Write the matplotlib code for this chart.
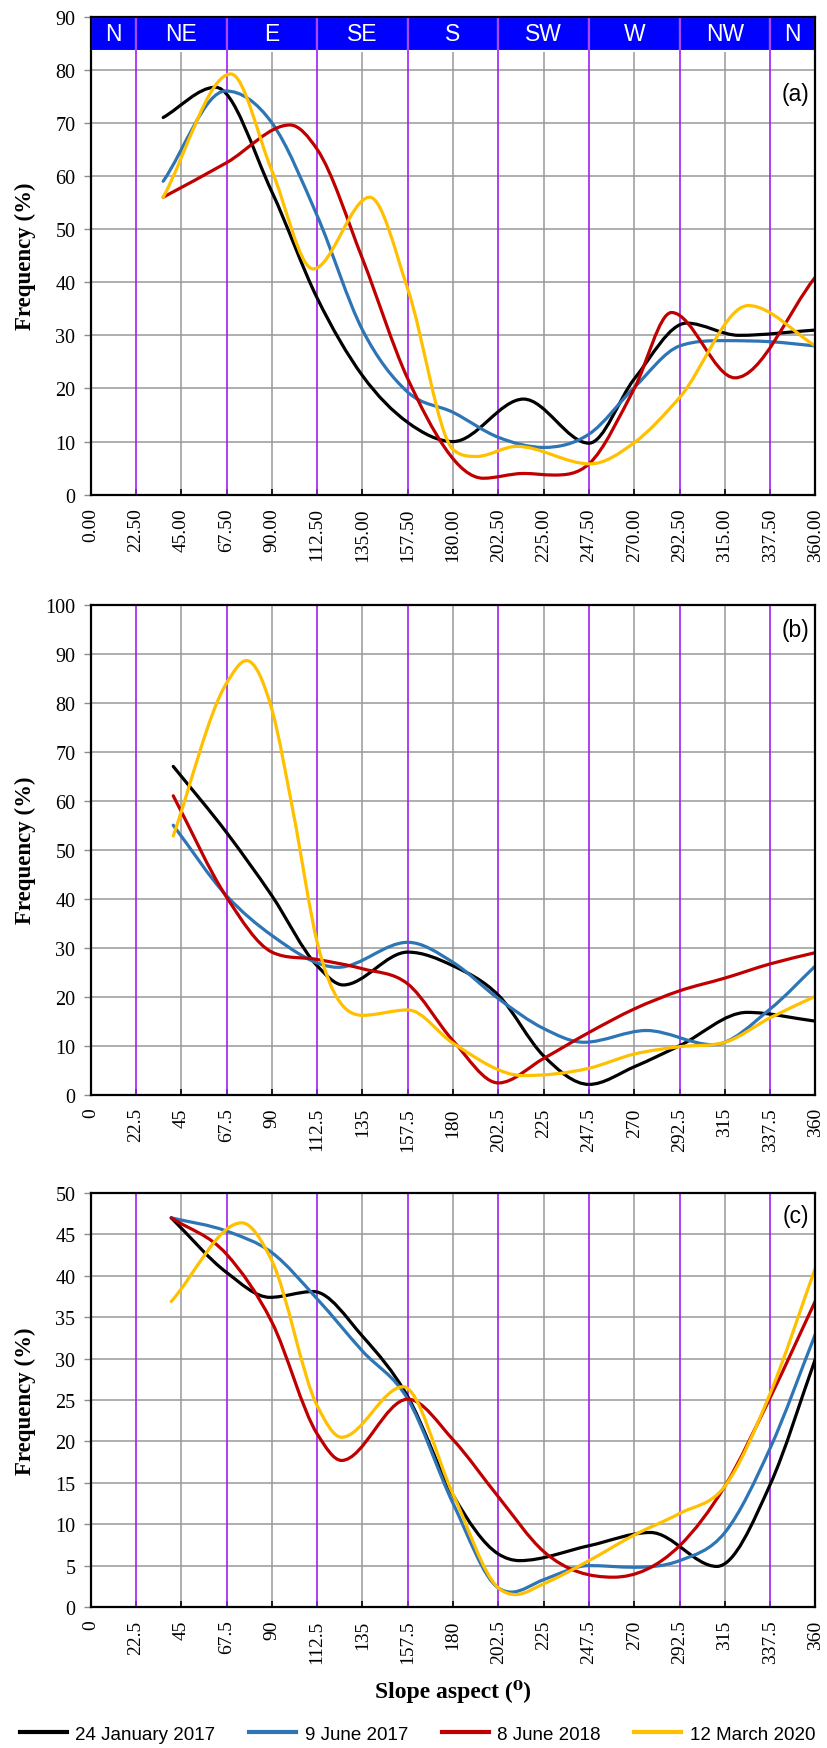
import matplotlib
matplotlib.use("Agg")
import matplotlib.pyplot as plt
from matplotlib.path import Path
from matplotlib.patches import PathPatch, Rectangle
from matplotlib.lines import Line2D

plt.rcParams['font.family'] = ['Liberation Serif', 'DejaVu Serif']

# ---- data (slope aspect in degrees, frequency in %) ----
labels = ["24 January 2017", "9 June 2017", "8 June 2018", "12 March 2020"]
colors = ["#000000", "#2E75B6", "#C00000", "#FFC000"]

sectors = ["N", "NE", "E", "SE", "S", "SW", "W", "NW", "N"]
sector_edges = [0, 22.5, 67.5, 112.5, 157.5, 202.5, 247.5, 292.5, 337.5, 360]

# panel (a)
a_black_x = [36, 62, 90, 112.5, 135, 157.5, 180, 215, 247.5, 270, 296, 322, 360]
a_black_y = [71, 76.7, 57, 37, 22.4, 13.6, 10, 18, 9.7, 21.8, 32.3, 30, 31]
a_blue_x = [36, 67, 90, 112.5, 135, 157.5, 180, 202.5, 225, 247.5, 270, 292.5, 315, 337.5, 360]
a_blue_y = [59, 76, 70, 52.5, 31, 19.3, 15.5, 10.8, 8.9, 11.4, 20.2, 28, 29, 28.8, 28]
a_red_x = [36, 67.5, 99, 112.5, 135, 157.5, 195, 215, 230, 247.5, 270, 288.5, 320, 360]
a_red_y = [56, 62.5, 69.6, 65, 44.4, 21.8, 3.1, 4.0, 3.7, 5.8, 20, 34.3, 22, 41]
a_yellow_x = [36, 69.6, 90, 110.5, 138.6, 157.5, 180, 191.7, 211.6, 248, 270, 292.5, 326.6, 360]
a_yellow_y = [56, 79.2, 61, 42.5, 56, 38.7, 8.5, 7.2, 9.1, 5.8, 9.8, 18.3, 35.6, 28]

# panel (b)
b_black_x = [41, 67.5, 90, 112.5, 125.4, 157.5, 180, 202.5, 225, 247.5, 270, 292.5, 326, 360]
b_black_y = [67, 53.5, 40.6, 26.3, 22.4, 29.1, 26.3, 20.3, 7.9, 2.1, 5.7, 10, 16.8, 15]
b_blue_x = [41, 67.5, 90, 122.9, 157.5, 180, 202.5, 225, 245, 276, 309, 337.5, 360]
b_blue_y = [55, 40.6, 32.5, 26, 31.1, 27, 19.6, 13.5, 10.7, 13.1, 10.2, 17.5, 26.3]
b_red_x = [41, 67.5, 90, 112.5, 135, 157.5, 180, 202.5, 225, 247.5, 270, 292.5, 315, 337.5, 360]
b_red_y = [61, 40.3, 29.1, 27.6, 25.7, 22.6, 11, 2.4, 7.4, 12.7, 17.5, 21.2, 23.8, 26.7, 29]
b_yellow_x = [41, 67.5, 77.4, 90, 100.6, 112.5, 135, 157.5, 180, 214.9, 247.5, 270, 292.5, 315, 337.5, 360]
b_yellow_y = [52.8, 84, 88.6, 78.6, 57.6, 31.1, 16.2, 17.3, 10.5, 3.9, 5.4, 8.3, 9.8, 10.7, 15.7, 20.1]

# panel (c)
c_black_x = [40, 67.5, 89, 110.5, 135, 157.5, 180, 202.5, 213, 247.5, 278, 311, 337.5, 360]
c_black_y = [47, 40.4, 37.4, 38.1, 32.7, 25.4, 13.5, 6.4, 5.6, 7.4, 9, 4.9, 14.8, 30]
c_blue_x = [40, 67.5, 90, 112.5, 135, 157.5, 180, 202.5, 209, 225, 247.5, 270, 292.5, 315, 337.5, 360]
c_blue_y = [47, 45.4, 42.8, 37.2, 30.9, 25.1, 12.5, 2.3, 1.8, 3.3, 5, 4.8, 5.6, 9, 19.2, 33]
c_red_x = [40, 67.5, 90, 112.5, 124.6, 157.5, 180, 202.5, 225, 259.6, 292.5, 315, 337.5, 360]
c_red_y = [47, 42.6, 34.4, 20.9, 17.7, 25.1, 20.2, 13.3, 6.7, 3.6, 7.4, 14.6, 25.3, 37]
c_yellow_x = [40, 75, 90, 112.5, 124.6, 155.2, 180, 202.5, 211, 225, 247.5, 270, 292.5, 315, 337.5, 360]
c_yellow_y = [36.9, 46.4, 41.8, 24.3, 20.5, 26.6, 13.6, 2.3, 1.5, 2.8, 5.6, 8.7, 11.3, 14.6, 25.8, 41]

x_ticks = [i * 22.5 for i in range(17)]


# smoothed line through the points: cubic Bezier segments (Hermite form),
# flat at local extrema so the curve does not overshoot
def smooth_path(xs, ys):
    n = len(xs)
    h = [xs[i + 1] - xs[i] for i in range(n - 1)]
    d = [(ys[i + 1] - ys[i]) / h[i] for i in range(n - 1)]
    m = [d[0]] + [0.0] * (n - 2) + [d[-1]]
    for i in range(1, n - 1):
        if d[i - 1] * d[i] <= 0:
            continue
        s = (h[i] * d[i - 1] + h[i - 1] * d[i]) / (h[i - 1] + h[i])
        lim = 3 * min(abs(d[i - 1]), abs(d[i]))
        m[i] = max(-lim, min(lim, s))
    verts = [(xs[0], ys[0])]
    codes = [Path.MOVETO]
    for i in range(n - 1):
        verts += [(xs[i] + h[i] / 3, ys[i] + m[i] * h[i] / 3),
                  (xs[i + 1] - h[i] / 3, ys[i + 1] - m[i + 1] * h[i] / 3),
                  (xs[i + 1], ys[i + 1])]
        codes += [Path.CURVE4] * 3
    return Path(verts, codes)


fig = plt.figure(figsize=(8.27, 17.49), dpi=100)

W, H = 827.0, 1749.0
left, right = 90.7, 815.5
panels = [
    dict(top=17.6, bottom=495.7, ymax=90, ystep=10, tag="(a)", tag_y=75.5, fmt="{:.2f}",
         series=[(a_black_x, a_black_y), (a_blue_x, a_blue_y), (a_red_x, a_red_y), (a_yellow_x, a_yellow_y)]),
    dict(top=605.7, bottom=1095.7, ymax=100, ystep=10, tag="(b)", tag_y=95, fmt="{:g}",
         series=[(b_black_x, b_black_y), (b_blue_x, b_blue_y), (b_red_x, b_red_y), (b_yellow_x, b_yellow_y)]),
    dict(top=1194, bottom=1608, ymax=50, ystep=5, tag="(c)", tag_y=47.3, fmt="{:g}",
         series=[(c_black_x, c_black_y), (c_blue_x, c_blue_y), (c_red_x, c_red_y), (c_yellow_x, c_yellow_y)]),
]

for k, p in enumerate(panels):
    ax = fig.add_axes([left / W, 1 - p["bottom"] / H, (right - left) / W, (p["bottom"] - p["top"]) / H])
    ax.set_xlim(0, 360)
    ax.set_ylim(0, p["ymax"])
    yt = [v * p["ystep"] for v in range(int(p["ymax"] / p["ystep"]) + 1)]
    ax.set_yticks(yt)
    ax.set_yticklabels([f"{v:g}" for v in yt], fontsize=14.5)
    ax.set_xticks(x_ticks)
    ax.set_xticklabels([p["fmt"].format(v) for v in x_ticks], rotation=90, fontsize=14)
    ax.tick_params(axis='x', direction='in', length=4, pad=9, width=1.2)
    ax.tick_params(axis='y', direction='out', length=5, pad=6, width=1.0, color='#8c8c8c')

    # gray grid, purple sector boundaries over it
    for v in x_ticks:
        if v not in sector_edges[1:-1]:
            ax.axvline(v, color='#999999', lw=1.1, zorder=1)
    for v in yt:
        ax.axhline(v, color='#999999', lw=1.1, zorder=1)

    if k == 0:
        for j, name in enumerate(sectors):
            x0, x1 = sector_edges[j], sector_edges[j + 1]
            ax.add_patch(Rectangle((x0, 83.6), x1 - x0, 6.4, facecolor='#0000FF',
                                   edgecolor='white', lw=1.5, zorder=2))
            ax.text((x0 + x1) / 2, 86.8, name, color='white', ha='center', va='center',
                    fontsize=16.5, family=['Liberation Sans', 'DejaVu Sans'], zorder=4)

    for v in sector_edges[1:-1]:
        ax.axvline(v, color='#A020F0', lw=1.2, zorder=3)

    for (xs, ys), c in zip(p["series"], colors):
        ax.add_patch(PathPatch(smooth_path(xs, ys), fill=False, edgecolor=c, lw=2.3,
                               capstyle='round', zorder=5))

    ax.text(357, p["tag_y"], p["tag"], ha='right', va='center', fontsize=16.5,
            family=['Liberation Sans', 'DejaVu Sans'], zorder=6)

    for s in ax.spines.values():
        s.set_linewidth(1.6)
        s.set_color('black')
        s.set_zorder(7)

    ax.set_ylabel("Frequency (%)", fontsize=16.5, fontweight='bold')
    ax.yaxis.set_label_coords(-0.076, 0.5)

fig.text(453 / W, 1 - 1692 / H, "Slope aspect (\u2070)", ha='center', va='center',
         fontsize=17, fontweight='bold', family=['Liberation Serif', 'DejaVu Serif'])

handles = [Line2D([], [], color=c, lw=3) for c in colors]
fig.legend(handles, labels, loc='center', bbox_to_anchor=(0.505, 1 - 1735 / H), ncol=4,
           frameon=False, handlelength=2.5, handletextpad=0.45, columnspacing=1.8,
           prop=dict(family=['Liberation Sans', 'DejaVu Sans'], size=13.5))

fig.savefig("out.png", dpi=100)
